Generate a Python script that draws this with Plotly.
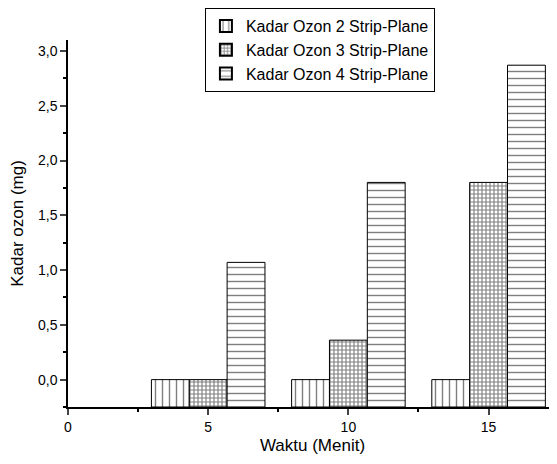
import plotly.graph_objects as go
import numpy as np

waktu = [5, 10, 15]
ozon_2_strip = [0.0, 0.0, 0.0]
ozon_3_strip = [0.0, 0.36, 1.80]
ozon_4_strip = [1.07, 1.80, 2.87]
series_names = ["Kadar Ozon 2 Strip-Plane", "Kadar Ozon 3 Strip-Plane", "Kadar Ozon 4 Strip-Plane"]

Y_MIN, Y_MAX = -0.25, 3.1
X_MIN, X_MAX = 0, 17.44

styles = [
    dict(shape="|", size=7, solidity=0.2),
    dict(shape="+", size=4, solidity=0.5),
    dict(shape="-", size=7, solidity=0.2),
]

fig = go.Figure()
for name, vals, st in zip(series_names, [ozon_2_strip, ozon_3_strip, ozon_4_strip], styles):
    v = np.array(vals)
    fig.add_trace(go.Bar(
        x=waktu, y=v - Y_MIN, base=Y_MIN, name=name,
        marker=dict(color="white",
                    line=dict(color="black", width=1),
                    pattern=dict(shape=st["shape"], size=st["size"], solidity=st["solidity"],
                                 fgcolor="black", bgcolor="white", fillmode="overlay")),
    ))

font = "Liberation Sans, Arial, sans-serif"
fig.update_layout(
    width=549, height=456,
    margin=dict(l=60, r=0, t=32, b=57, autoexpand=False),
    paper_bgcolor="white", plot_bgcolor="white",
    barmode="group", bargap=0.19, bargroupgap=0,
    separators=",.",
    font=dict(family=font, size=14, color="black"),
    showlegend=True,
    legend=dict(x=0.28, y=1.087, xanchor="left", yanchor="top",
                bordercolor="black", borderwidth=1, bgcolor="white",
                font=dict(size=16, family=font), tracegroupgap=0,
                itemsizing="constant"),
)
fig.update_xaxes(
    range=[X_MIN, X_MAX], tick0=0, dtick=5, ticks="outside", ticklen=6, tickwidth=1.5,
    showline=True, linecolor="black", linewidth=1.5, showgrid=False, zeroline=False,
    minor=dict(ticks="outside", dtick=2.5, ticklen=3, tickcolor="black"),
    title=dict(text="Waktu (Menit)", font=dict(size=17, family=font), standoff=6),
    tickfont=dict(size=14, family=font),
)
fig.update_yaxes(
    range=[Y_MIN, Y_MAX], tick0=0, dtick=0.5, tickformat=".1f", ticks="outside", ticklen=6, tickwidth=1.5,
    showline=True, linecolor="black", linewidth=1.5, showgrid=False, zeroline=False,
    minor=dict(ticks="outside", dtick=0.25, ticklen=3, tickcolor="black"),
    title=dict(text="Kadar ozon (mg)", font=dict(size=17, family=font), standoff=10),
    tickfont=dict(size=14, family=font),
)
fig.write_html("out.html")
